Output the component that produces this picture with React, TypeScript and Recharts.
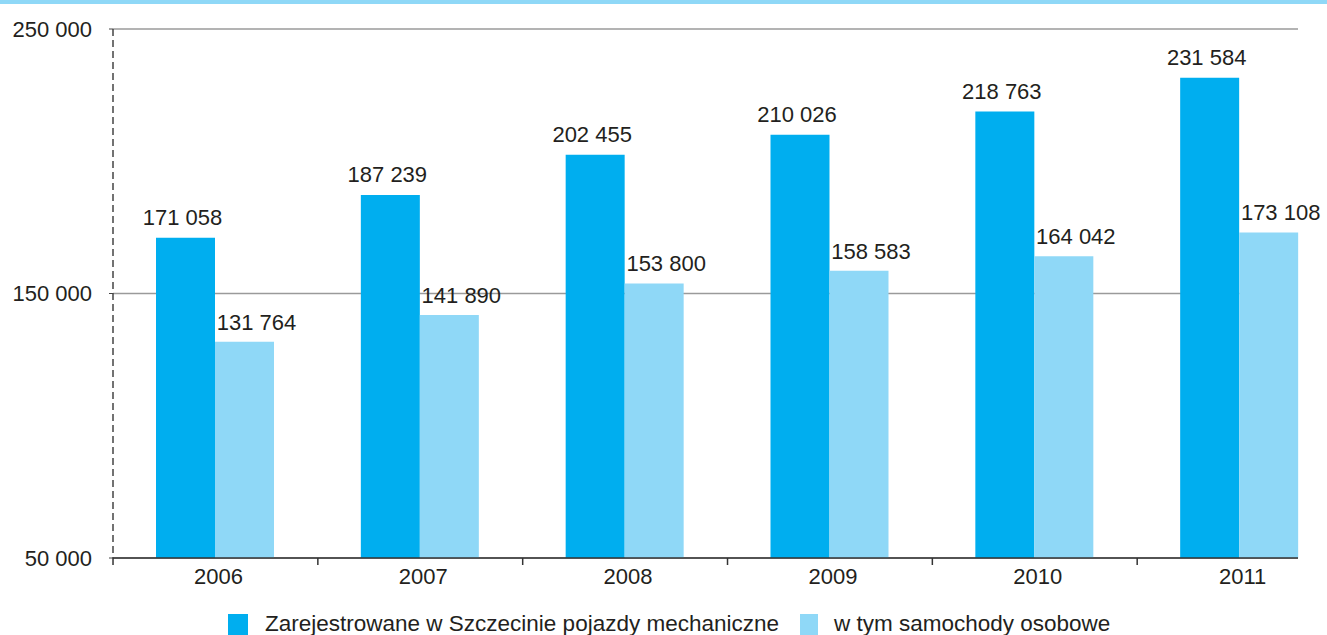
import { BarChart, Bar, XAxis, YAxis, CartesianGrid, Legend, LabelList } from 'recharts';

const years = ['2006', '2007', '2008', '2009', '2010', '2011'];
const vehicles = [171058, 187239, 202455, 210026, 218763, 231584];
const cars = [131764, 141890, 153800, 158583, 164042, 173108];
const yTicks = [50000, 150000, 250000];

const seriesNames = {
    vehicles: 'Zarejestrowane w Szczecinie pojazdy mechaniczne',
    cars: 'w tym samochody osobowe',
};

const data = years.map((year, i) => ({ year, vehicles: vehicles[i], cars: cars[i] }));

const DARK = '#00aeef';
const LIGHT = '#8fd8f7';
const TEXT = '#231f20';
const FONT = '"Liberation Sans", Arial, sans-serif';

const fmt = (v: number) => String(v).replace(/\B(?=(\d{3})+(?!\d))/g, ' ');

const BAND = 204.8;

function XTick(props: any) {
    const { x, y, payload } = props;
    return (
        <g>
            <line x1={x - BAND / 2} x2={x - BAND / 2} y1={y - 8} y2={y - 1} stroke="#333" strokeWidth={1.5} />
            <text x={x + 3} y={y + 18} textAnchor="middle" fill={TEXT} fontSize={22} fontFamily={FONT}>
                {payload.value}
            </text>
        </g>
    );
}

function LegendBox() {
    return (
        <div style={{ position: 'relative', width: 1327, height: 21, fontFamily: FONT, fontSize: 22.5, color: TEXT }}>
            <div style={{ position: 'absolute', left: 228, top: 0, width: 20, height: 21, background: DARK }} />
            <div style={{ position: 'absolute', left: 265, top: -3, whiteSpace: 'nowrap', lineHeight: '26px' }}>
                {seriesNames.vehicles}
            </div>
            <div style={{ position: 'absolute', left: 800, top: 0, width: 18, height: 21, background: LIGHT }} />
            <div style={{ position: 'absolute', left: 834, top: -3, whiteSpace: 'nowrap', lineHeight: '26px' }}>
                {seriesNames.cars}
            </div>
        </div>
    );
}

export default function App() {
    return (
        <div style={{ position: 'absolute', left: 0, top: 0, width: 1327, height: 635, background: '#fff', overflow: 'hidden' }}>
            <div style={{ position: 'absolute', left: 0, top: 0, width: 1327, height: 4, background: LIGHT }} />
            <BarChart
                width={1327}
                height={635}
                data={data}
                margin={{ top: 29, right: 29, left: 0, bottom: 0 }}
                barGap={0}
                barSize={59}
            >
                <CartesianGrid vertical={false} stroke="#9a9a9a" strokeWidth={1.5} />
                <XAxis
                    dataKey="year"
                    height={56}
                    padding={{ left: 0, right: -44 }}
                    axisLine={{ stroke: '#333', strokeWidth: 1.5 }}
                    tickLine={false}
                    tick={<XTick />}
                    interval={0}
                />
                <YAxis
                    width={113}
                    domain={[50000, 250000]}
                    ticks={yTicks}
                    allowDataOverflow
                    tickFormatter={fmt}
                    axisLine={{ stroke: '#444', strokeDasharray: '7 4', strokeWidth: 1.5 }}
                    tickLine={{ stroke: '#444' }}
                    tickSize={4}
                    tickMargin={17}
                    tick={{ fill: TEXT, fontSize: 22, fontFamily: FONT }}
                />
                <Legend verticalAlign="bottom" content={<LegendBox />} wrapperStyle={{ left: 0, width: 1327 }} />
                <Bar dataKey="vehicles" name={seriesNames.vehicles} fill={DARK} isAnimationActive={false}>
                    <LabelList dataKey="vehicles" position="top" offset={13} dx={-3} formatter={(v: any) => fmt(v)} fill={TEXT} fontSize={22} fontFamily={FONT} />
                </Bar>
                <Bar dataKey="cars" name={seriesNames.cars} fill={LIGHT} isAnimationActive={false}>
                    <LabelList dataKey="cars" position="top" offset={12} dx={12} formatter={(v: any) => fmt(v)} fill={TEXT} fontSize={22} fontFamily={FONT} />
                </Bar>
            </BarChart>
        </div>
    );
}
